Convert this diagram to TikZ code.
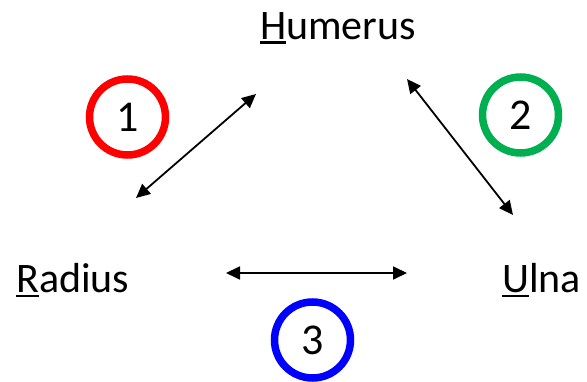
\documentclass[tikz,border=0pt]{standalone}
\usepackage{fontspec}
\setmainfont{Carlito}
\usetikzlibrary{arrows.meta}
% underline the first letter of a word
\newcommand\leadul[2]{\setbox0\hbox{#1}\rlap{\rule[-4.5pt]{\wd0}{2.6pt}}\box0#2}
\definecolor{ringred}{HTML}{FF0000}
\definecolor{ringgreen}{HTML}{00B050}
\definecolor{ringblue}{HTML}{0000FF}
\begin{document}
\begin{tikzpicture}[x=1pt,y=-1pt,
  bone/.style={anchor=base west,inner sep=0pt,font=\fontsize{42}{50}\selectfont},
  ring/.style={circle,draw=#1,line width=7.5pt,minimum size=76pt,inner sep=0pt,
    font=\fontsize{44}{52}\selectfont},
  link/.style={line width=1.8pt,{Triangle[length=14pt,width=13pt]}-{Triangle[length=14pt,width=13pt]}}]
\useasboundingbox (0,0) rectangle (587,382);
% bone names
\node[bone] (hum) at (260,39.5) {\leadul{H}{umerus}};
\node[bone] (rad) at (16,293) {\leadul{R}{adius}};
\node[bone] (uln) at (502,293) {\leadul{U}{lna}};
% numbered rings
\node[ring=ringred]   (r1) at (127.5,117) {1};
\node[ring=ringgreen] (r2) at (520.5,115) {2};
\node[ring=ringblue]  (r3) at (312.5,340) {3};
% connector end points
\coordinate (a1) at (136,198);
\coordinate (b1) at (256,94);
\coordinate (a2) at (407,79);
\coordinate (b2) at (513,215);
\coordinate (a3) at (226,273);
\coordinate (b3) at (407,273);
\draw[link] (a1) -- (b1);
\draw[link] (a2) -- (b2);
\draw[link] (a3) -- (b3);
\end{tikzpicture}
\end{document}
